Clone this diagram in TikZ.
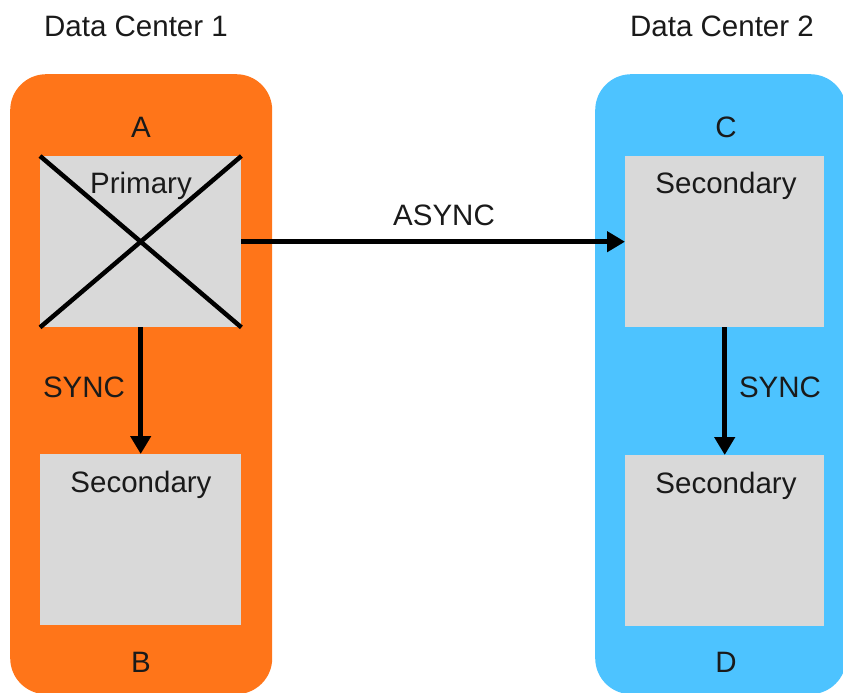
\documentclass[tikz,border=0pt]{standalone}
\usepackage{fontspec}
\setmainfont{Liberation Sans}
\usetikzlibrary{arrows.meta}
\definecolor{dcorange}{RGB}{255,117,25}
\definecolor{dcblue}{RGB}{77,195,255}
\definecolor{boxgray}{RGB}{217,217,217}
\definecolor{ink}{RGB}{26,26,26}
\begin{document}
\begin{tikzpicture}[x=1pt,y=-1pt,
  font=\fontsize{29.5}{35}\selectfont,
  dc/.style={rounded corners=36pt, inner sep=0, draw=none, anchor=north west},
  srv/.style={fill=boxgray, draw=none, anchor=north west, minimum width=201pt, minimum height=171pt, inner sep=0},
  lbl/.style={inner sep=0, anchor=base, text=ink},
  conn/.style={line width=4.5pt, -{Triangle[length=18pt,width=20pt]}},
  cross/.style={line width=4.5pt}]
\useasboundingbox (0,0) rectangle (843,693);
\clip (0,0) rectangle (843,693);
% data centers
\node[dc, fill=dcorange, minimum width=262pt, minimum height=620pt] (dc1) at (10,74) {};
\node[dc, fill=dcblue, minimum width=251pt, minimum height=620pt] (dc2) at (595,74) {};
% titles
\node[lbl] (t1) at (136,37) {Data Center 1};
\node[lbl] (t2) at (722,37) {Data Center 2};
% servers
\node[srv] (A) at (40,156) {};
\node[srv] (B) at (40,454) {};
\node[srv, minimum width=199pt] (C) at (625,156) {};
\node[srv, minimum width=199pt] (D) at (625,455) {};
% letters
\node[lbl] (la) at (141,137) {A};
\node[lbl] (lb) at (141,672) {B};
\node[lbl] (lc) at (726,137) {C};
\node[lbl] (ld) at (726,672) {D};
% box labels
\node[lbl] (pa) at (141,193) {Primary};
\node[lbl] (sb) at (141,492) {Secondary};
\node[lbl] (sc) at (726,193) {Secondary};
\node[lbl] (sd) at (726,493) {Secondary};
% failure cross
\draw[cross] (A.north west) -- (A.south east);
\draw[cross] (A.north east) -- (A.south west);
% connectors
\draw[conn] (A.east) -- (C.west);
\draw[conn] (A.south) -- (B.north);
\draw[conn] (C.south) -- (D.north);
% connector labels
\node[lbl] (async) at (444,225) {ASYNC};
\node[lbl] (sync1) at (84,397) {SYNC};
\node[lbl] (sync2) at (780,397) {SYNC};
\end{tikzpicture}
\end{document}
